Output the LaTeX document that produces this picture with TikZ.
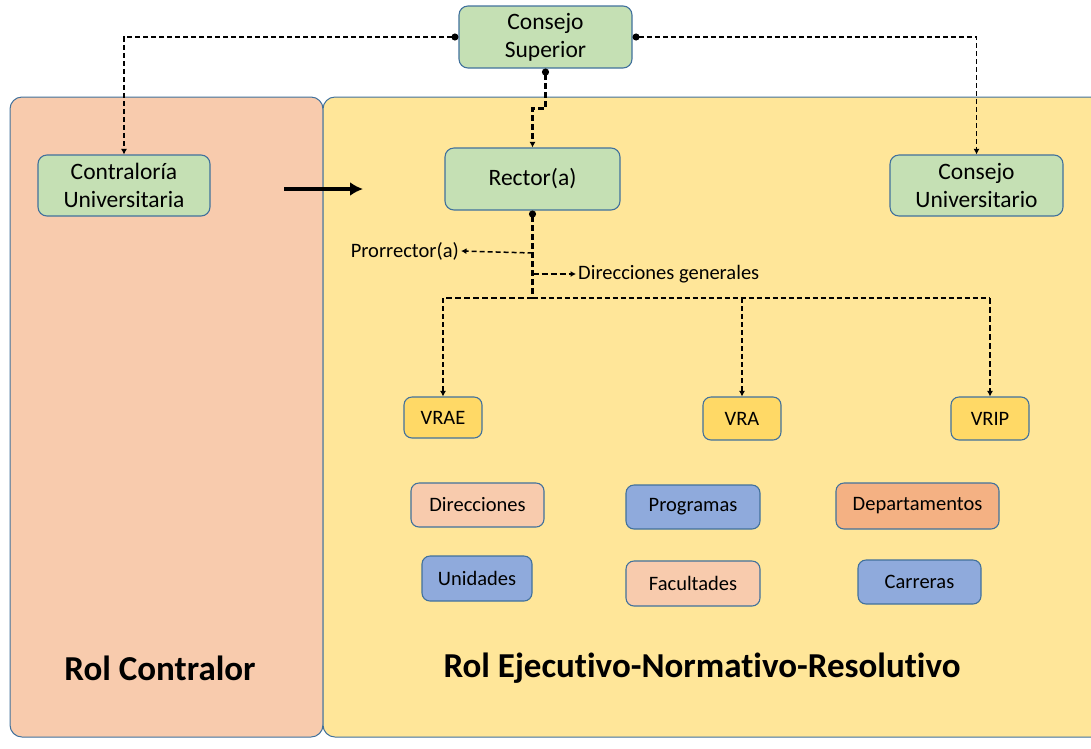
\documentclass[tikz,border=0pt]{standalone}
\usepackage{fontspec}
\setmainfont{Carlito}[Ligatures=NoCommon]
\usetikzlibrary{arrows.meta}
\definecolor{bord}{HTML}{41719C}
\definecolor{salmon}{HTML}{F8CBAD}
\definecolor{yel}{HTML}{FFE699}
\definecolor{grn}{HTML}{C5E0B4}
\definecolor{gold}{HTML}{FFD966}
\definecolor{blu}{HTML}{8FAADC}
\definecolor{orng}{HTML}{F4B183}
\begin{document}
\begin{tikzpicture}[x=1pt,y=-1pt,
  panel/.style={draw=bord, line width=1pt, rounded corners=12pt},
  box/.style={draw=bord, line width=1.1pt, rounded corners=9pt, align=center, inner sep=0pt, font=\fontsize{23.5}{28}\selectfont},
  sbox/.style={draw=bord, line width=1.1pt, rounded corners=8pt, align=center, inner sep=0pt, font=\fontsize{20.5}{24}\selectfont},
  lbl/.style={inner sep=2pt, font=\fontsize{20.5}{24}\selectfont},
  title/.style={inner sep=0pt, font=\fontsize{35}{40}\selectfont\bfseries},
  thinconn/.style={line width=1.5pt, dash pattern=on 5pt off 3pt},
  thickconn/.style={line width=2.8pt, dash pattern=on 6pt off 3pt},
  tip/.style={-{Latex[length=5.5pt,width=6pt]}},
  dottip/.style={{Circle[length=7pt]}-{Latex[length=5.5pt,width=6pt]}}
]
\useasboundingbox (0,0) rectangle (1091,748);
\clip (0,0) rectangle (1091,748);
% panels
\draw[panel, fill=salmon] (10,97) rectangle (323,737);
\draw[panel, fill=yel] (323,97) rectangle (1110,737);
\node[title] (rolc) at (160,668) {Rol Contralor};
\node[title] (role) at (702,668) {Rol Ejecutivo-Normativo-Resolutivo};
% top nodes
\node[box, fill=grn, minimum width=173pt, minimum height=62pt] (cs) at (545.5,37) {Consejo\\Superior};
\node[box, fill=grn, minimum width=172pt, minimum height=61pt] (cont) at (124,185.5) {Contraloría\\Universitaria};
\node[box, fill=grn, minimum width=173pt, minimum height=61pt] (cuniv) at (976.5,185.5) {Consejo\\Universitario};
\node[box, fill=grn, minimum width=175pt, minimum height=62pt] (rector) at (532.5,179) {Rector(a)};
% VR nodes
\node[sbox, fill=gold, minimum width=78pt, minimum height=41pt] (vrae) at (443,417.5) {VRAE};
\node[sbox, fill=gold, minimum width=78pt, minimum height=43pt] (vra) at (742,418.5) {VRA};
\node[sbox, fill=gold, minimum width=78pt, minimum height=43pt] (vrip) at (990,418.5) {VRIP};
% lower boxes
\node[sbox, fill=salmon, minimum width=133pt, minimum height=44pt] (dir) at (477.5,505) {Direcciones};
\node[sbox, fill=blu, minimum width=134pt, minimum height=44pt] (prog) at (693,507) {Programas};
\node[sbox, fill=orng, minimum width=163pt, minimum height=46pt] (dep) at (917.5,506) {Departamentos};
\node[sbox, fill=blu, minimum width=110pt, minimum height=45pt] (uni) at (477,578.5) {Unidades};
\node[sbox, fill=salmon, minimum width=134pt, minimum height=45pt] (fac) at (693,583.5) {Facultades};
\node[sbox, fill=blu, minimum width=123pt, minimum height=44pt] (car) at (919.5,582) {Carreras};
% labels
\node[lbl, anchor=east] (prorr) at (461,251) {Prorrector(a)};
\node[lbl, anchor=west] (dg) at (576,274) {Direcciones generales};
% connectors from Consejo Superior
\draw[thinconn, dottip] (cs.west) -| (cont.north);
\draw[thinconn, dottip] (cs.east) -| (cuniv.north);
\draw[thickconn, dottip] (cs.south) -- ++(0,40) -| (rector.north);
% arrow between roles
\coordinate (a1) at (284,189);
\coordinate (a2) at (363,189);
\draw[line width=4.5pt, -{Latex[length=13pt,width=14pt]}] (a1) -- (a2);
% rector tree
\coordinate (j) at (532.5,298);
\coordinate (jp) at (532.5,253);
\coordinate (jd) at (532.5,274);
\draw[thickconn, {Circle[length=7pt]}-] (rector.south) -- (j);
\draw[thinconn, tip] (jp) -- (prorr.east);
\draw[thickconn, tip] (jd) -- (dg.west);
\draw[thickconn] (j) -- (vrae.north |- j);
\draw[thinconn, tip] (vrae.north |- j) -- (vrae.north);
\draw[thinconn] (j) -- (vrip.north |- j);
\draw[thinconn, tip] (vra.north |- j) -- (vra.north);
\draw[thickconn, tip] (vrip.north |- j) -- (vrip.north);
\end{tikzpicture}
\end{document}
